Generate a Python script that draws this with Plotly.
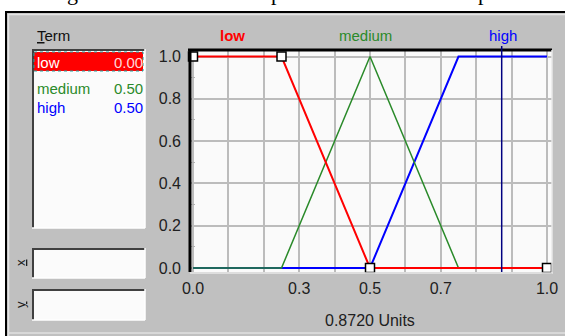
import plotly.graph_objects as go

# ---------------- data ----------------
x_low = [0.0, 0.25, 0.5, 1.0]
y_low = [1.0, 1.0, 0.0, 0.0]
x_medium = [0.0, 0.25, 0.5, 0.75, 1.0]
y_medium = [0.0, 0.0, 1.0, 0.0, 0.0]
x_high = [0.0, 0.5, 0.75, 1.0]
y_high = [0.0, 0.0, 1.0, 1.0]
term_names = ["low", "medium", "high"]
term_values = ["0.00", "0.50", "0.50"]
input_value = 0.872
input_label = "0.8720 Units"
x_grid = [0.0, 0.1, 0.2, 0.3, 0.4, 0.5, 0.6, 0.7, 0.8, 0.9, 1.0]
x_ticktext = ["0.0", "", "", "0.3", "", "0.5", "", "0.7", "", "", "1.0"]
y_ticks = [0.0, 0.2, 0.4, 0.6, 0.8, 1.0]
y_ticktext = ["0.0", "0.2", "0.4", "0.6", "0.8", "1.0"]
y_minor = [0.1, 0.3, 0.5, 0.7, 0.9]

W, H = 565, 336
PL, PR, PT, PB = 190, 552, 50, 272   # plot area in pixels

def X(px):
    return (px - PL) / (PR - PL)

def Y(py):
    return (PB - py) / (PB - PT)

GRAY = "#c0c0c0"
FONT = "Liberation Sans Narrow, Liberation Sans, Arial"
RED, GREEN, BLUE = "#ff0000", "#2a8a2a", "#0000ff"

fig = go.Figure()
fig.add_trace(go.Scatter(x=x_high, y=y_high, mode="lines",
                         line=dict(color=BLUE, width=2), hoverinfo="skip"))
fig.add_trace(go.Scatter(x=x_medium, y=y_medium, mode="lines",
                         line=dict(color=GREEN, width=1.5), hoverinfo="skip"))
fig.add_trace(go.Scatter(x=x_low, y=y_low, mode="lines+markers",
                         line=dict(color=RED, width=2),
                         marker=dict(symbol="square", size=9, color="white",
                                     line=dict(color="black", width=1.5)),
                         cliponaxis=False, hoverinfo="skip"))

shapes = []
def rect(x0, y0, x1, y1, fill, line_color=None, lw=0, layer="below"):
    shapes.append(dict(type="rect", xref="paper", yref="paper",
                       x0=X(x0), x1=X(x1), y0=Y(y0), y1=Y(y1),
                       fillcolor=fill, layer=layer,
                       line=dict(width=lw, color=line_color or fill)))

def hline(x0, x1, y, color, lw=1, layer="below"):
    shapes.append(dict(type="line", xref="paper", yref="paper",
                       x0=X(x0), x1=X(x1), y0=Y(y), y1=Y(y),
                       line=dict(color=color, width=lw), layer=layer))

def vline(x, y0, y1, color, lw=1, layer="below"):
    shapes.append(dict(type="line", xref="paper", yref="paper",
                       x0=X(x), x1=X(x), y0=Y(y0), y1=Y(y1),
                       line=dict(color=color, width=lw), layer=layer))

# top white strip and window frame
rect(0, 0, W, 11, "white")
rect(0, 11, 6, H, "white")
hline(5, W, 12, "black", 2)
vline(6, 12, H, "black", 2)
hline(8, W, 14.5, "#e4e4e4", 1.5)
vline(8.5, 14, H, "#e4e4e4", 1.5)
hline(8, W, 333, "#e0e0e0", 1.5)

# sunken boxes
def sunken(x0, y0, x1, y1):
    rect(x0, y0, x1, y1, "#fbfbfb")
    hline(x0, x1, y0 + 1, "#404040", 2)
    vline(x0 + 1, y0, y1, "#404040", 2)
    hline(x0, x1, y1, "#ffffff", 1.5)
    vline(x1, y0, y1, "#ffffff", 1.5)

sunken(32, 49, 145, 228)
sunken(32, 248, 145, 278)
sunken(32, 289, 145, 320)

# selected row of list
rect(34, 52, 143, 71, "#ff0000")
shapes.append(dict(type="rect", xref="paper", yref="paper",
                   x0=X(34), x1=X(143), y0=Y(52), y1=Y(71),
                   line=dict(color="#20a0a0", width=1, dash="dot"),
                   fillcolor="rgba(0,0,0,0)"))

# plot area frame
hline(188, 552, 50, "black", 3, "above")
vline(190, 49, 272, "black", 3, "above")
vline(552, 50, 273, "#e8e8e8", 1.5, "above")
hline(190, 553, 273, "#e8e8e8", 1.5, "above")

# input value line and arrow
shapes.append(dict(type="line", xref="x", yref="paper",
                   x0=input_value, x1=input_value, y0=Y(272), y1=Y(46),
                   line=dict(color="#000080", width=1.5), layer="above"))
shapes.append(dict(type="path", xref="x", yref="y",
                   xsizemode="pixel", ysizemode="pixel",
                   xanchor=input_value, yanchor=0,
                   path="M 0,-14 L 7,-22 L 2.5,-22 L 2.5,-29 L -2.5,-29 L -2.5,-22 L -7,-22 Z",
                   fillcolor="#ff0000", line=dict(width=0), layer="above"))

annotations = []
def text(px, py, s, color="#202020", size=14, xanchor="center", family=FONT,
         angle=0, yanchor="middle"):
    annotations.append(dict(x=X(px), y=Y(py), xref="paper", yref="paper",
                            text=s, showarrow=False, xanchor=xanchor,
                            yanchor=yanchor, textangle=angle,
                            font=dict(color=color, size=size, family=family)))

# caption fragments cut off at top (as in the reference screenshot)
text(72, 7, "g", "black", 22, family="Liberation Serif", yanchor="bottom")
text(276, 7, "p", "black", 22, family="Liberation Serif", yanchor="bottom")
text(483, 7, "p", "black", 22, family="Liberation Serif", yanchor="bottom")

text(35, 35, "<u>T</u>erm", "#101010", 15, xanchor="left")
row_y = [62, 88, 107]
row_colors = ["white", GREEN, BLUE]
val_colors = ["#ffd8d8", GREEN, BLUE]
for name, val, ry, c, vc in zip(term_names, term_values, row_y, row_colors, val_colors):
    text(35, ry, name, c, 15, xanchor="left")
    text(145, ry, val, vc, 15, xanchor="right")

text(20, 263, "<u>x</u>", "#202020", 13, angle=-90)
text(20, 305, "<u>y</u>", "#202020", 13, angle=-90)

# MF titles
text(232, 35, "<b>low</b>", RED, 15)
text(365, 35, "medium", GREEN, 15)
text(503, 35, "high", BLUE, 15)

text(370, 320, input_label, "#202020", 16)

fig.update_layout(
    width=W, height=H,
    margin=dict(l=PL, r=W - PR, t=PT, b=H - PB, pad=0, autoexpand=False),
    paper_bgcolor=GRAY, plot_bgcolor="#fafafa",
    showlegend=False,
    shapes=shapes, annotations=annotations,
    font=dict(family=FONT, size=15, color="#202020"),
)
fig.update_xaxes(range=[-3 / 354, 1 + 5 / 354], tickvals=x_grid, ticktext=x_ticktext,
                 showgrid=True, gridcolor="#bcbcbc", gridwidth=1.5, automargin=False,
                 zeroline=False, showline=False, ticks="", ticklabelstandoff=5,
                 tickfont=dict(size=16), fixedrange=True)
fig.update_yaxes(range=[-4 / 211.5, 1 + 6.5 / 211.5], tickvals=y_ticks, ticktext=y_ticktext,
                 showgrid=True, gridcolor="#bcbcbc", gridwidth=1.5, automargin=False,
                 zeroline=False, showline=False, ticks="", ticklabelstandoff=8,
                 tickfont=dict(size=16),
                 minor=dict(tickvals=y_minor, ticks="inside", ticklen=5,
                            tickcolor="#b0b0b0", showgrid=False),
                 fixedrange=True)

fig.write_html("out.html", config={"displayModeBar": False},
               post_script="document.body.style.margin='0';document.body.style.overflow='hidden';")
